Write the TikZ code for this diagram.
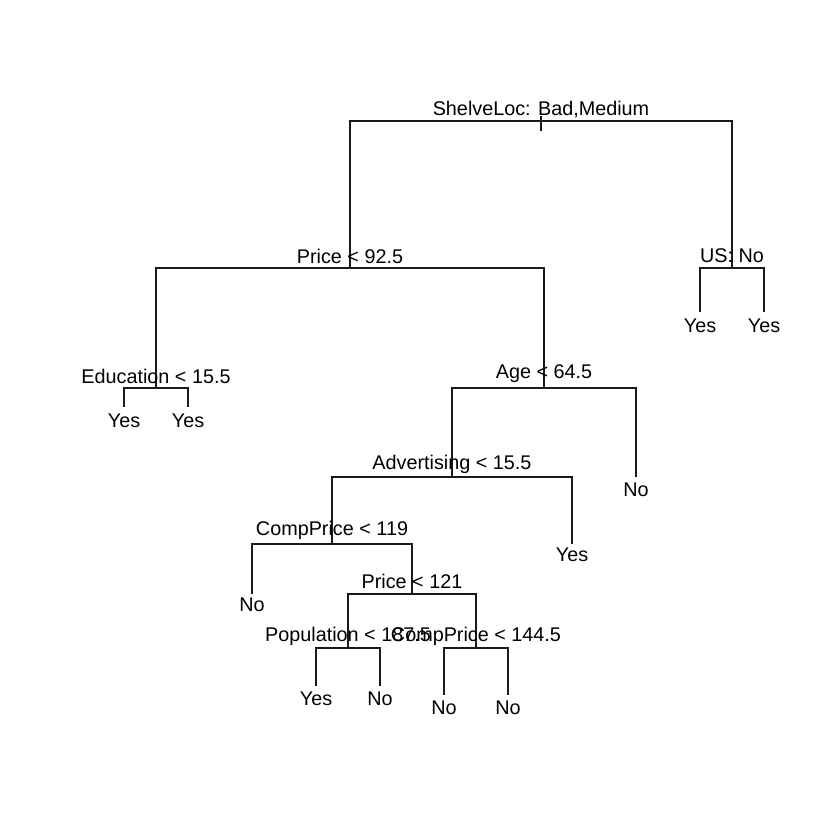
\documentclass[tikz,border=0pt]{standalone}
\usepackage{fontspec}
\setmainfont{Liberation Sans}
\begin{document}
\begin{tikzpicture}[x=1pt,y=-1pt,
  edge/.style={line width=1.6pt, draw=black!90},
  lbl/.style={anchor=base, inner sep=0pt, font=\fontsize{19.8}{22}\selectfont}]
\useasboundingbox (0,0) rectangle (840,840);
% split points
\coordinate (root) at (541,121);
\coordinate (roottop) at (541,116);
\coordinate (roottick) at (541,131);
\coordinate (price1) at (350,268);
\coordinate (us) at (732,268);
\coordinate (usL) at (700,312);
\coordinate (usR) at (764,312);
\coordinate (edu) at (156,388);
\coordinate (eduL) at (124,407);
\coordinate (eduR) at (188,407);
\coordinate (age) at (544,388);
\coordinate (ageR) at (636,477);
\coordinate (adv) at (452,477);
\coordinate (advR) at (572,544);
\coordinate (cp1) at (332,544);
\coordinate (cp1L) at (252,594);
\coordinate (price2) at (412,594);
\coordinate (pop) at (348,648);
\coordinate (popL) at (316,686);
\coordinate (popR) at (380,686);
\coordinate (cp2) at (476,648);
\coordinate (cp2L) at (444,695);
\coordinate (cp2R) at (508,695);
% connectors
\draw[edge] (roottop) -- (roottick);
\draw[edge] (root) -| (price1);
\draw[edge] (root) -| (us);
\draw[edge] (us) -| (usL);
\draw[edge] (us) -| (usR);
\draw[edge] (price1) -| (edu);
\draw[edge] (price1) -| (age);
\draw[edge] (edu) -| (eduL);
\draw[edge] (edu) -| (eduR);
\draw[edge] (age) -| (adv);
\draw[edge] (age) -| (ageR);
\draw[edge] (adv) -| (cp1);
\draw[edge] (adv) -| (advR);
\draw[edge] (cp1) -| (cp1L);
\draw[edge] (cp1) -| (price2);
\draw[edge] (price2) -| (pop);
\draw[edge] (price2) -| (cp2);
\draw[edge] (pop) -| (popL);
\draw[edge] (pop) -| (popR);
\draw[edge] (cp2) -| (cp2L);
\draw[edge] (cp2) -| (cp2R);
% split labels
\node[lbl] (lroot) at (541,116) {ShelveLoc: Bad,Medium};
\node[lbl] (lprice1) at (350,263.5) {Price < 92.5};
\node[lbl] (lus) at (732,262.5) {US: No};
\node[lbl] (ledu) at (156,383.5) {Education < 15.5};
\node[lbl] (lage) at (544,378.5) {Age < 64.5};
\node[lbl] (ladv) at (452,469) {Advertising < 15.5};
\node[lbl] (lcp1) at (332,535) {CompPrice < 119};
\node[lbl] (lprice2) at (412,588.5) {Price < 121};
\node[lbl] (lpop) at (348,641) {Population < 187.5};
\node[lbl] (lcp2) at (476,641) {CompPrice < 144.5};
% leaf labels
\node[lbl] (lusL) at (700,332) {Yes};
\node[lbl] (lusR) at (764,332) {Yes};
\node[lbl] (leduL) at (124,427) {Yes};
\node[lbl] (leduR) at (188,427) {Yes};
\node[lbl] (lageR) at (636,496.5) {No};
\node[lbl] (ladvR) at (572,561) {Yes};
\node[lbl] (lcp1L) at (252,611) {No};
\node[lbl] (lpopL) at (316,705) {Yes};
\node[lbl] (lpopR) at (380,705) {No};
\node[lbl] (lcp2L) at (444,714) {No};
\node[lbl] (lcp2R) at (508,714) {No};
\end{tikzpicture}
\end{document}
